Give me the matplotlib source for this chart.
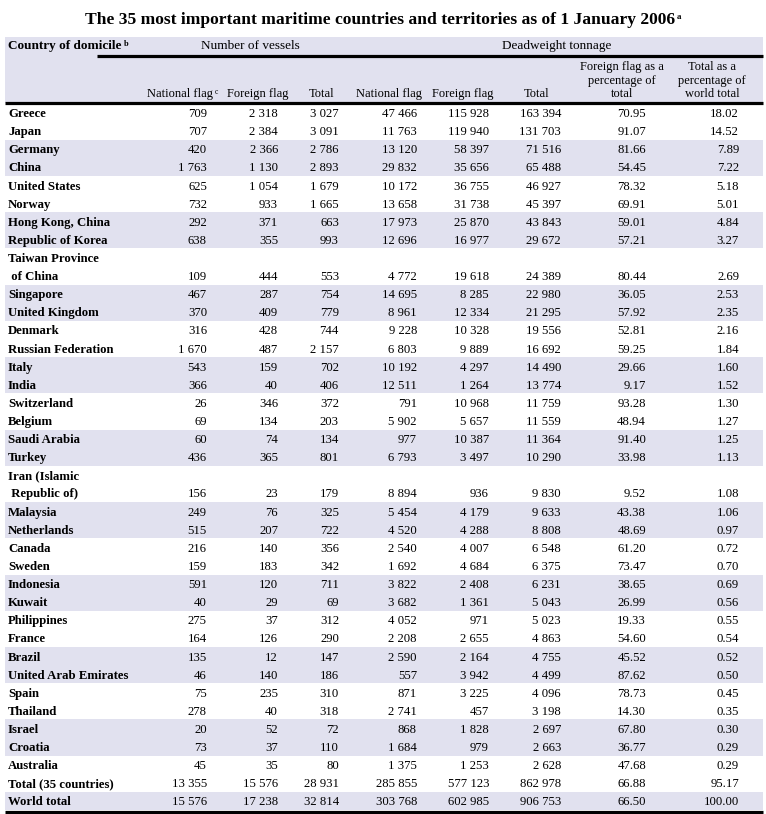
import matplotlib
matplotlib.use("Agg")
import matplotlib.pyplot as plt
from matplotlib.patches import Rectangle

countries = ["Greece", "Japan", "Germany", "China", "United States", "Norway",
             "Hong Kong, China", "Republic of Korea", "Taiwan Province\n of China",
             "Singapore", "United Kingdom", "Denmark", "Russian Federation", "Italy",
             "India", "Switzerland", "Belgium", "Saudi Arabia", "Turkey",
             "Iran (Islamic\n Republic of)", "Malaysia", "Netherlands", "Canada",
             "Sweden", "Indonesia", "Kuwait", "Philippines", "France", "Brazil",
             "United Arab Emirates", "Spain", "Thailand", "Israel", "Croatia",
             "Australia", "Total (35 countries)", "World total"]
vessels_national = [709, 707, 420, 1763, 625, 732, 292, 638, 109, 467, 370, 316, 1670,
                    543, 366, 26, 69, 60, 436, 156, 249, 515, 216, 159, 591, 40, 275,
                    164, 135, 46, 75, 278, 20, 73, 45, 13355, 15576]
vessels_foreign = [2318, 2384, 2366, 1130, 1054, 933, 371, 355, 444, 287, 409, 428, 487,
                   159, 40, 346, 134, 74, 365, 23, 76, 207, 140, 183, 120, 29, 37, 126,
                   12, 140, 235, 40, 52, 37, 35, 15576, 17238]
vessels_total = [3027, 3091, 2786, 2893, 1679, 1665, 663, 993, 553, 754, 779, 744, 2157,
                 702, 406, 372, 203, 134, 801, 179, 325, 722, 356, 342, 711, 69, 312,
                 290, 147, 186, 310, 318, 72, 110, 80, 28931, 32814]
dwt_national = [47466, 11763, 13120, 29832, 10172, 13658, 17973, 12696, 4772, 14695,
                8961, 9228, 6803, 10192, 12511, 791, 5902, 977, 6793, 8894, 5454, 4520,
                2540, 1692, 3822, 3682, 4052, 2208, 2590, 557, 871, 2741, 868, 1684,
                1375, 285855, 303768]
dwt_foreign = [115928, 119940, 58397, 35656, 36755, 31738, 25870, 16977, 19618, 8285,
               12334, 10328, 9889, 4297, 1264, 10968, 5657, 10387, 3497, 936, 4179, 4288,
               4007, 4684, 2408, 1361, 971, 2655, 2164, 3942, 3225, 457, 1828, 979, 1253,
               577123, 602985]
dwt_total = [163394, 131703, 71516, 65488, 46927, 45397, 43843, 29672, 24389, 22980,
             21295, 19556, 16692, 14490, 13774, 11759, 11559, 11364, 10290, 9830, 9633,
             8808, 6548, 6375, 6231, 5043, 5023, 4863, 4755, 4499, 4096, 3198, 2697, 2663,
             2628, 862978, 906753]
pct_foreign = [70.95, 91.07, 81.66, 54.45, 78.32, 69.91, 59.01, 57.21, 80.44, 36.05,
               57.92, 52.81, 59.25, 29.66, 9.17, 93.28, 48.94, 91.40, 33.98, 9.52, 43.38,
               48.69, 61.20, 73.47, 38.65, 26.99, 19.33, 54.60, 45.52, 87.62, 78.73,
               14.30, 67.80, 36.77, 47.68, 66.88, 66.50]
pct_world = [18.02, 14.52, 7.89, 7.22, 5.18, 5.01, 4.84, 3.27, 2.69, 2.53, 2.35, 2.16,
             1.84, 1.60, 1.52, 1.30, 1.27, 1.25, 1.13, 1.08, 1.06, 0.97, 0.72, 0.70,
             0.69, 0.56, 0.55, 0.54, 0.52, 0.50, 0.45, 0.35, 0.30, 0.29, 0.29, 95.17,
             100.00]

title = "The 35 most important maritime countries and territories as of 1 January 2006"
group_labels = ["Number of vessels", "Deadweight tonnage"]
sub_headers = ["National flag", "Foreign flag", "Total", "National flag", "Foreign flag",
               "Total", "Foreign flag as a\npercentage of\ntotal",
               "Total as a\npercentage of\nworld total"]

W, H = 766, 814
fig = plt.figure(figsize=(W / 100, H / 100), dpi=100)
ax = fig.add_axes([0, 0, 1, 1])
ax.set_xlim(0, W)
ax.set_ylim(H, 0)
ax.axis("off")

FONT = "Liberation Serif"
FS = 9.2
HFS = 9.2
SHADE = "#e1e1ef"
LEFT, RIGHT = 5, 763

# Title
t = ax.text(380, 20, title, ha="center", va="center", fontsize=12.6,
            fontweight="bold", family=FONT)
ax.annotate("a", xy=(1, 0.95), xycoords=t, xytext=(1, 0), textcoords="offset points",
            fontsize=6.5, fontweight="bold", family=FONT, ha="left", va="top")

# Header band
hdr_top, hdr_bot = 37, 103
ax.add_patch(Rectangle((LEFT, hdr_top), RIGHT - LEFT, hdr_bot - hdr_top,
                       facecolor=SHADE, edgecolor="none", zorder=0))
c = ax.text(8, 46, "Country of domicile", ha="left", va="center", fontsize=HFS + 0.3,
            fontweight="bold", family=FONT)
ax.annotate("b", xy=(1, 1), xycoords=c, xytext=(2, 0), textcoords="offset points",
            fontsize=6, fontweight="bold", family=FONT, ha="left", va="top")
ax.text(250, 46, group_labels[0], ha="center", va="center", fontsize=HFS + 0.3, family=FONT)
ax.text(557, 46, group_labels[1], ha="center", va="center", fontsize=HFS + 0.3, family=FONT)
ax.plot([97, RIGHT], [55.5, 55.5], color="black", lw=2.3, solid_capstyle="butt")

sub_x = [180, 258, 322, 389, 463, 537, 622, 712]
for i, (sx, lab) in enumerate(zip(sub_x, sub_headers)):
    tt = ax.text(sx, 97, lab, ha="center", va="baseline", fontsize=HFS - 0.2, family=FONT,
                 linespacing=1.15)
    if i == 0:
        ax.annotate("c", xy=(1, 1), xycoords=tt, xytext=(1, 0), textcoords="offset points",
                    fontsize=5.5, family=FONT, ha="left", va="top")
ax.plot([LEFT, RIGHT], [102.5, 102.5], color="black", lw=2.3, solid_capstyle="butt")

# Body rows
y0 = 103.5
h = (810 - y0) / 39
col_right = [207, 278, 339, 417, 489, 561, 646, 739]
columns = [vessels_national, vessels_foreign, vessels_total, dwt_national, dwt_foreign,
           dwt_total, pct_foreign, pct_world]


def fmt(v):
    if isinstance(v, float):
        return f"{v:.2f}"
    return f"{v:,}".replace(",", " ")


u = 0
for r, name in enumerate(countries):
    nlines = name.count("\n") + 1
    for k in range(nlines):
        if ((u + k) // 2) % 2 == 1:
            ax.add_patch(Rectangle((LEFT, y0 + (u + k) * h), RIGHT - LEFT, h,
                                   facecolor=SHADE, edgecolor="none", zorder=0))
    for k, line in enumerate(name.split("\n")):
        ax.text(8, y0 + (u + k + 0.5) * h, line, ha="left", va="center_baseline",
                fontsize=FS, fontweight="bold", family=FONT)
    yv = y0 + (u + nlines - 0.5) * h
    for cx, col in zip(col_right, columns):
        ax.text(cx, yv, fmt(col[r]), ha="right", va="center_baseline", fontsize=FS,
                family=FONT)
    u += nlines

ax.plot([LEFT, RIGHT], [y0 + u * h + 1.5, y0 + u * h + 1.5], color="black", lw=2.3,
        solid_capstyle="butt")

fig.savefig("out.png", dpi=100)
